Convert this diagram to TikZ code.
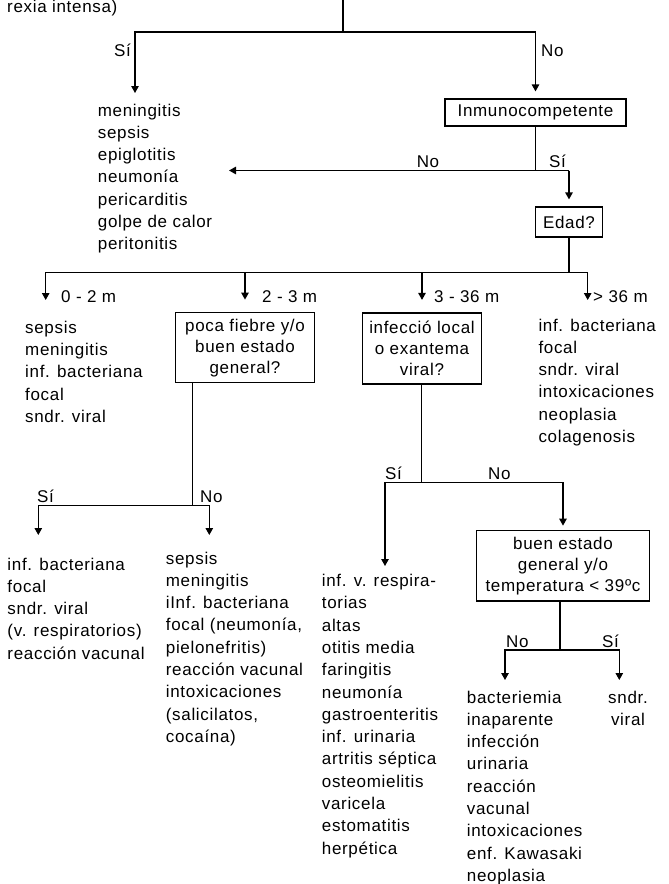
\documentclass[tikz,border=0pt]{standalone}
\usepackage{fontspec}
\setmainfont{Liberation Sans}[LetterSpace=4]
\usetikzlibrary{arrows.meta, positioning}

\begin{document}
\begin{tikzpicture}[
  x=1pt, y=-1pt,
  font=\fontsize{17}{22.3}\selectfont,
  box/.style={draw, line width=1.2pt, align=center, inner sep=0pt,
              font=\fontsize{17}{21}\selectfont},
  % lists sit on the baseline of their last line
  lst/.style={align=left, inner sep=0pt, anchor=base west},
  lbl/.style={inner sep=0pt},
  lnk/.style={line width=1.2pt},
  arr/.style={lnk, -{Triangle[length=7pt, width=7.5pt]}}
]
\useasboundingbox (0,0) rectangle (669,884);

% first split: Si / No
\node[lst] (prev) at (7,12.5) {rexia intensa)};
\coordinate (top) at (343,0);
\coordinate (j0) at (343,32);
\coordinate (t1) at (135,93);
\node[box, minimum width=181pt, minimum height=27pt] (immuno) at (535.5,112.5) {Inmunocompetente};
\draw[lnk] (top) -- (j0);
\draw[arr] (j0) -| (t1);
\draw[arr, shorten >=7pt] (j0) -| (immuno.north);
\node[lbl, anchor=base east] at (131,56.7) {Sí};
\node[lbl, anchor=base west] at (541,56.7) {No};
\node[lst] (ddxSi) at (97.7,249.8) {meningitis\\sepsis\\epiglotitis\\neumonía\\pericarditis\\golpe de calor\\peritonitis};

% immunocompetent?
\coordinate (j1) at (535.5,170.5);
\coordinate (t2) at (229,170.5);
\node[box, minimum width=67pt, minimum height=30pt] (edad) at (569,222) {Edad?};
\draw[lnk] (immuno.south) -- (j1);
\draw[arr] (edad.north |- j1) -- (t2);
\draw[arr, shorten >=7pt] (edad.north |- j1) -- (edad.north);
\node[lbl, anchor=base] at (428,167) {No};
\node[lbl, anchor=base east] at (566,167) {Sí};

% age groups
\coordinate (j3) at (569,272.3);
\coordinate (a1) at (45.7,300);
\coordinate (a4) at (587.7,300);
\node[box, minimum width=138.6pt, minimum height=70pt] (poca) at (245,347.7) {poca fiebre y/o\\buen estado\\general?};
\node[box, minimum width=119.4pt, minimum height=71pt] (infec) at (422,348.5) {infecció local\\o exantema\\viral?};
\draw[lnk] (edad.south) -- (j3);
\draw[arr] (j3) -| (a1);
\draw[arr] (j3) -| (a4);
\draw[arr, shorten >=12.5pt] (poca.north |- j3) -- (poca.north);
\draw[arr, shorten >=12.5pt] (infec.north |- j3) -- (infec.north);
\node[lbl, anchor=base west] at (61,302) {0 - 2 m};
\node[lbl, anchor=base west] at (262,302) {2 - 3 m};
\node[lbl, anchor=base west] at (434,302) {3 - 36 m};
\node[lbl, anchor=base west] at (593,302) {> 36 m};
\node[lst] (ddx02) at (25,422.5) {sepsis\\meningitis\\inf. bacteriana\\focal\\sndr. viral};
\node[lst] (ddx36) at (538.3,442.5) {inf. bacteriana\\focal\\sndr. viral\\intoxicaciones\\neoplasia\\colagenosis};

% 2 - 3 m branch
\coordinate (j4) at (192.3,505.5);
\coordinate (b1) at (38.3,535);
\coordinate (b2) at (209.3,535);
\draw[lnk] (j4 |- poca.south) -- (j4);
\draw[arr] (j4) -| (b1);
\draw[arr] (j4) -| (b2);
\node[lbl, anchor=base west] at (37,502) {Sí};
\node[lbl, anchor=base west] at (200,502) {No};
\node[lst] (ddxB1) at (7.3,659.2) {inf. bacteriana\\focal\\sndr. viral\\(v. respiratorios)\\reacción vacunal};
\node[lst] (ddxB2) at (165.7,742.4) {sepsis\\meningitis\\iInf. bacteriana\\focal (neumonía,\\pielonefritis)\\reacción vacunal\\intoxicaciones\\(salicilatos,\\cocaína)};

% 3 - 36 m branch
\coordinate (j5) at (421.7,482.7);
\coordinate (c1) at (385,566);
\node[box, minimum width=172.6pt, minimum height=70.3pt] (buen) at (563,565.9) {buen estado\\general y/o\\temperatura < 39ºc};
\draw[lnk] (j5 |- infec.south) -- (j5);
\draw[arr] (j5) -| (c1);
\draw[arr, shorten >=4.5pt] (j5) -| (buen.north);
\node[lbl, anchor=base west] at (385,479.5) {Sí};
\node[lbl, anchor=base west] at (488,479.5) {No};
\node[lst] (ddxC1) at (321.7,854.1) {inf. v. respira-\\torias\\altas\\otitis media\\faringitis\\neumonía\\gastroenteritis\\inf. urinaria\\artritis séptica\\osteomielitis\\varicela\\estomatitis\\herpética};

% general state / temperature
\coordinate (j6) at (560,650);
\coordinate (d1) at (505,680);
\coordinate (d2) at (619.3,680);
\draw[lnk] (j6 |- buen.south) -- (j6);
\draw[arr] (j6) -| (d1);
\draw[arr] (j6) -| (d2);
\node[lbl, anchor=base west] at (506,647) {No};
\node[lbl, anchor=base east] at (619,647) {Sí};
\node[lst] (ddxD1) at (466.7,881.4) {bacteriemia\\inaparente\\infección\\urinaria\\reacción\\vacunal\\intoxicaciones\\enf. Kawasaki\\neoplasia};
\node[lbl, align=center, anchor=base] (ddxD2) at (628,725.3) {sndr.\\viral};

\end{tikzpicture}
\end{document}
